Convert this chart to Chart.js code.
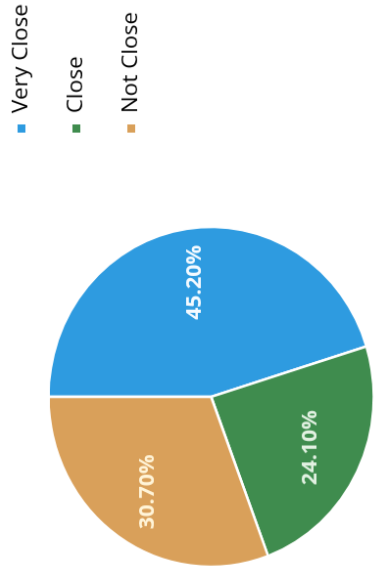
<!DOCTYPE html>
<html><head><meta charset="utf-8">
<script src="https://cdn.jsdelivr.net/npm/chart.js@4/dist/chart.umd.min.js"></script>
<style>
html,body{margin:0;padding:0;width:377px;height:571px;overflow:hidden;background:#fff;}
#wrap{position:absolute;left:0;top:0;width:612px;height:477px;transform-origin:0 0;transform:translate(-22.6px,626.2px) scale(0.98,1.024) rotate(-90deg);}
canvas{display:block;}
</style></head><body>
<div id="wrap"><canvas id="c" width="612" height="477"></canvas></div>
<script>
const categories = ['Very Close', 'Close', 'Not Close'];
const shares = [45.2, 24.1, 30.7];
const sliceColors = ['#2e9be0', '#3f8c4e', '#d9a05a'];
const labelColors = ['#f4faff', '#e2f1e2', '#fff4d8'];

const sliceLabels = {
  id: 'sliceLabels',
  afterDatasetsDraw(chart) {
    const ctx = chart.ctx;
    const meta = chart.getDatasetMeta(0);
    ctx.save();
    ctx.font = 'bold 21px "Open Sans"';
    ctx.textAlign = 'center';
    ctx.textBaseline = 'middle';
    meta.data.forEach((arc, i) => {
      const p = arc.getProps(['x', 'y', 'startAngle', 'endAngle', 'outerRadius'], true);
      const mid = (p.startAngle + p.endAngle) / 2;
      const r = p.outerRadius * 0.68;
      ctx.fillStyle = labelColors[i];
      ctx.fillText(shares[i].toFixed(2) + '%', p.x + Math.cos(mid) * r, p.y + Math.sin(mid) * r);
    });
    ctx.restore();
  }
};

new Chart(document.getElementById('c'), {
  type: 'pie',
  data: {
    labels: categories,
    datasets: [{
      data: shares,
      backgroundColor: sliceColors,
      borderColor: '#ffffff',
      borderWidth: 2.5,
      radius: 166
    }]
  },
  options: {
    responsive: false,
    animation: false,
    devicePixelRatio: 1,
    layout: { padding: 0 },
    plugins: {
      tooltip: { enabled: false },
      legend: {
        position: 'right',
        align: 'start',
        maxWidth: 164,
        labels: {
          font: { family: 'Open Sans', size: 22 },
          color: '#111111',
          boxWidth: 8,
          boxHeight: 8,
          padding: 34,
          generateLabels: () => categories.map((c, i) => ({
            text: c,
            fillStyle: sliceColors[i],
            strokeStyle: sliceColors[i],
            lineWidth: 0,
            hidden: false,
            index: i
          }))
        }
      }
    }
  },
  plugins: [sliceLabels]
});
</script>
</body></html>
